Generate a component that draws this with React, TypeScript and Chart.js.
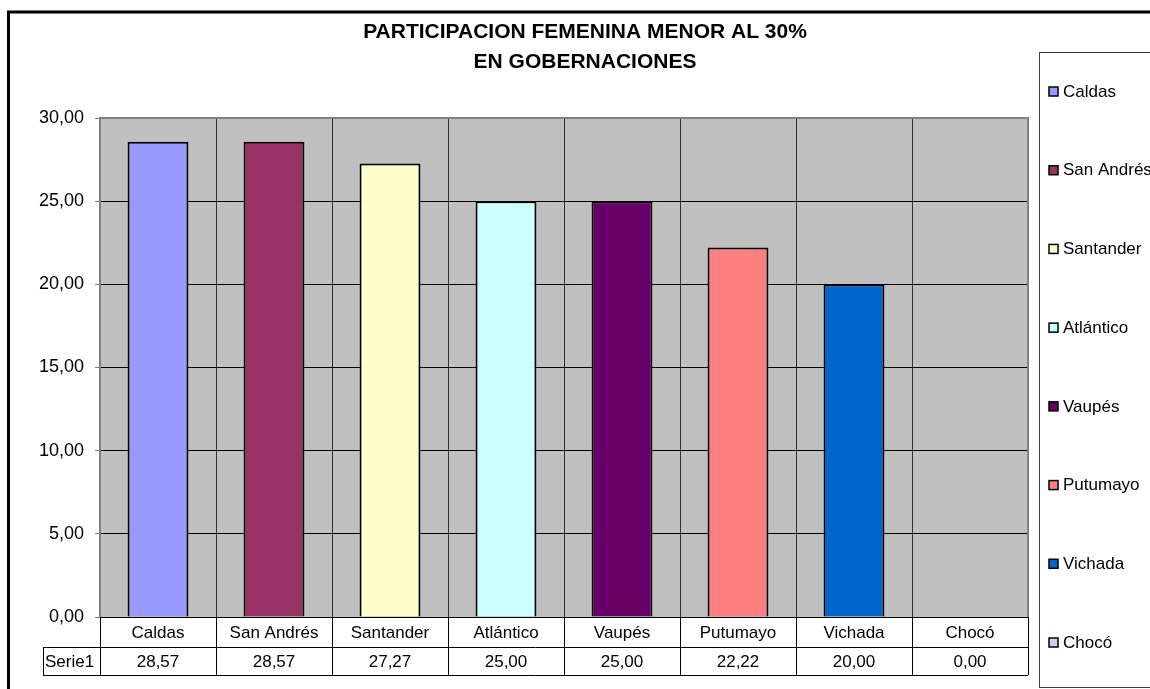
import React, { useEffect, useRef } from "react";
import { Chart, registerables } from "chart.js";

Chart.register(...registerables);

const categories = ["Caldas", "San Andrés", "Santander", "Atlántico", "Vaupés", "Putumayo", "Vichada", "Chocó"];
const values = [28.57, 28.57, 27.27, 25.0, 25.0, 22.22, 20.0, 0.0];
const colors = ["#9999FF", "#993366", "#FFFFCC", "#CCFFFF", "#660066", "#FF8080", "#0066CC", "#CCCCFF"];
const seriesName = "Serie1";
const titleLines = ["PARTICIPACION FEMENINA MENOR AL 30%", "EN GOBERNACIONES"];
const yMin = 0;
const yMax = 30;
const yStep = 5;

const FONT = '"Liberation Sans", Arial, sans-serif';
const fmt = (v: number) => v.toFixed(2).replace(".", ",");

const decor = {
  id: "decor",
  beforeDraw(chart: any) {
    const { ctx, chartArea: a } = chart;
    ctx.save();
    ctx.fillStyle = "#ffffff";
    ctx.fillRect(0, 0, chart.width, chart.height);
    ctx.fillStyle = "#C0C0C0";
    ctx.fillRect(a.left, a.top, a.right - a.left, a.bottom - a.top);
    ctx.restore();
  },
  afterDraw(chart: any) {
    const { ctx, chartArea: a } = chart;
    const xs = chart.scales.x;
    ctx.save();

    // plot border (gray) top/left/right
    ctx.strokeStyle = "#808080";
    ctx.lineWidth = 2;
    ctx.beginPath();
    ctx.moveTo(a.left, a.bottom);
    ctx.lineTo(a.left, a.top);
    ctx.lineTo(a.right, a.top);
    ctx.lineTo(a.right, a.bottom);
    ctx.stroke();

    // data table
    const half = (xs.getPixelForValue(1) - xs.getPixelForValue(0)) / 2;
    const row1Top = a.bottom;
    const row1Bot = a.bottom + 30;
    const row2Bot = a.bottom + 58;
    const serieLeft = 43;
    ctx.strokeStyle = "#000000";
    ctx.lineWidth = 1;
    ctx.beginPath();
    ctx.moveTo(a.left, row1Top + 0.5);
    ctx.lineTo(a.right, row1Top + 0.5);
    ctx.moveTo(serieLeft, row1Bot + 0.5);
    ctx.lineTo(a.right, row1Bot + 0.5);
    ctx.moveTo(serieLeft, row2Bot + 0.5);
    ctx.lineTo(a.right, row2Bot + 0.5);
    ctx.moveTo(serieLeft + 0.5, row1Bot);
    ctx.lineTo(serieLeft + 0.5, row2Bot);
    for (let i = 0; i <= categories.length; i++) {
      const x = Math.round(xs.getPixelForValue(0) - half + i * 2 * half) + 0.5;
      ctx.moveTo(x, row1Top);
      ctx.lineTo(x, row2Bot);
    }
    ctx.stroke();

    ctx.fillStyle = "#000000";
    ctx.font = `17px ${FONT}`;
    ctx.textAlign = "center";
    ctx.textBaseline = "middle";
    categories.forEach((c, i) => {
      const cx = xs.getPixelForValue(i);
      ctx.fillText(c, cx, (row1Top + row1Bot) / 2 + 1);
      ctx.fillText(fmt(values[i]), cx, (row1Bot + row2Bot) / 2 + 1);
    });
    ctx.textAlign = "left";
    ctx.fillText(seriesName, serieLeft + 2, (row1Bot + row2Bot) / 2 + 1);

    // legend
    const lgLeft = 1039;
    const lgTop = 52;
    const lgBot = 687;
    ctx.strokeStyle = "#404040";
    ctx.lineWidth = 1;
    ctx.strokeRect(lgLeft + 0.5, lgTop + 0.5, 300, lgBot - lgTop);
    const first = lgTop + 40;
    const spacing = (lgBot - lgTop - 84) / (categories.length - 1);
    ctx.textAlign = "left";
    ctx.textBaseline = "middle";
    categories.forEach((c, i) => {
      const cy = first + i * spacing;
      ctx.fillStyle = colors[i];
      ctx.fillRect(1049, cy - 5, 9, 9);
      ctx.strokeStyle = "#000000";
      ctx.lineWidth = 1.5;
      ctx.strokeRect(1049, cy - 5, 9, 9);
      ctx.fillStyle = "#000000";
      ctx.fillText(c, 1063, cy);
    });

    // title
    ctx.font = `bold 21px ${FONT}`;
    ctx.textAlign = "center";
    ctx.textBaseline = "middle";
    ctx.fillText(titleLines[0], 585, 32);
    ctx.fillText(titleLines[1], 585, 62);

    // outer frame
    ctx.strokeStyle = "#000000";
    ctx.lineWidth = 3;
    ctx.strokeRect(8.5, 12, 1300, 1000);

    ctx.restore();
  },
};

export default function App() {
  const ref = useRef<HTMLCanvasElement | null>(null);
  useEffect(() => {
    if (!ref.current) return;
    const chart = new Chart(ref.current, {
      type: "bar",
      data: {
        labels: categories,
        datasets: [
          {
            label: seriesName,
            data: values,
            backgroundColor: colors,
            borderColor: "#000000",
            borderWidth: (c: any) => (c.raw === 0 ? 0 : 2),
            categoryPercentage: 1,
            barPercentage: 0.525,
          },
        ],
      },
      options: {
        responsive: false,
        animation: false,
        layout: { padding: { top: 118, right: 122, bottom: 72, left: 0 } },
        plugins: {
          legend: { display: false },
          title: { display: false },
          tooltip: { enabled: false },
        },
        scales: {
          x: {
            type: "category",
            grid: { offset: true, color: "#303030", lineWidth: 1, drawTicks: false },
            border: { display: false },
            ticks: { display: false },
            afterFit: (s: any) => {
              s.height = 0;
            },
          },
          y: {
            min: yMin,
            max: yMax,
            ticks: {
              stepSize: yStep,
              color: "#000000",
              font: { family: FONT, size: 18 },
              padding: 11,
              callback: (v: any) => fmt(Number(v)),
            },
            grid: {
              color: (c: any) => (c.tick && c.tick.value === yMax ? "#808080" : "#000000"),
              tickColor: "#808080",
              tickLength: 5,
              lineWidth: 1,
            },
            border: { color: "#808080", width: 2 },
            afterFit: (s: any) => {
              s.width = 100;
            },
          },
        },
      },
      plugins: [decor],
    } as any);
    return () => chart.destroy();
  }, []);
  return (
    <div style={{ position: "absolute", left: 0, top: 0, width: 1150, height: 689 }}>
      <canvas ref={ref} width={1150} height={689} style={{ width: 1150, height: 689 }} />
    </div>
  );
}
